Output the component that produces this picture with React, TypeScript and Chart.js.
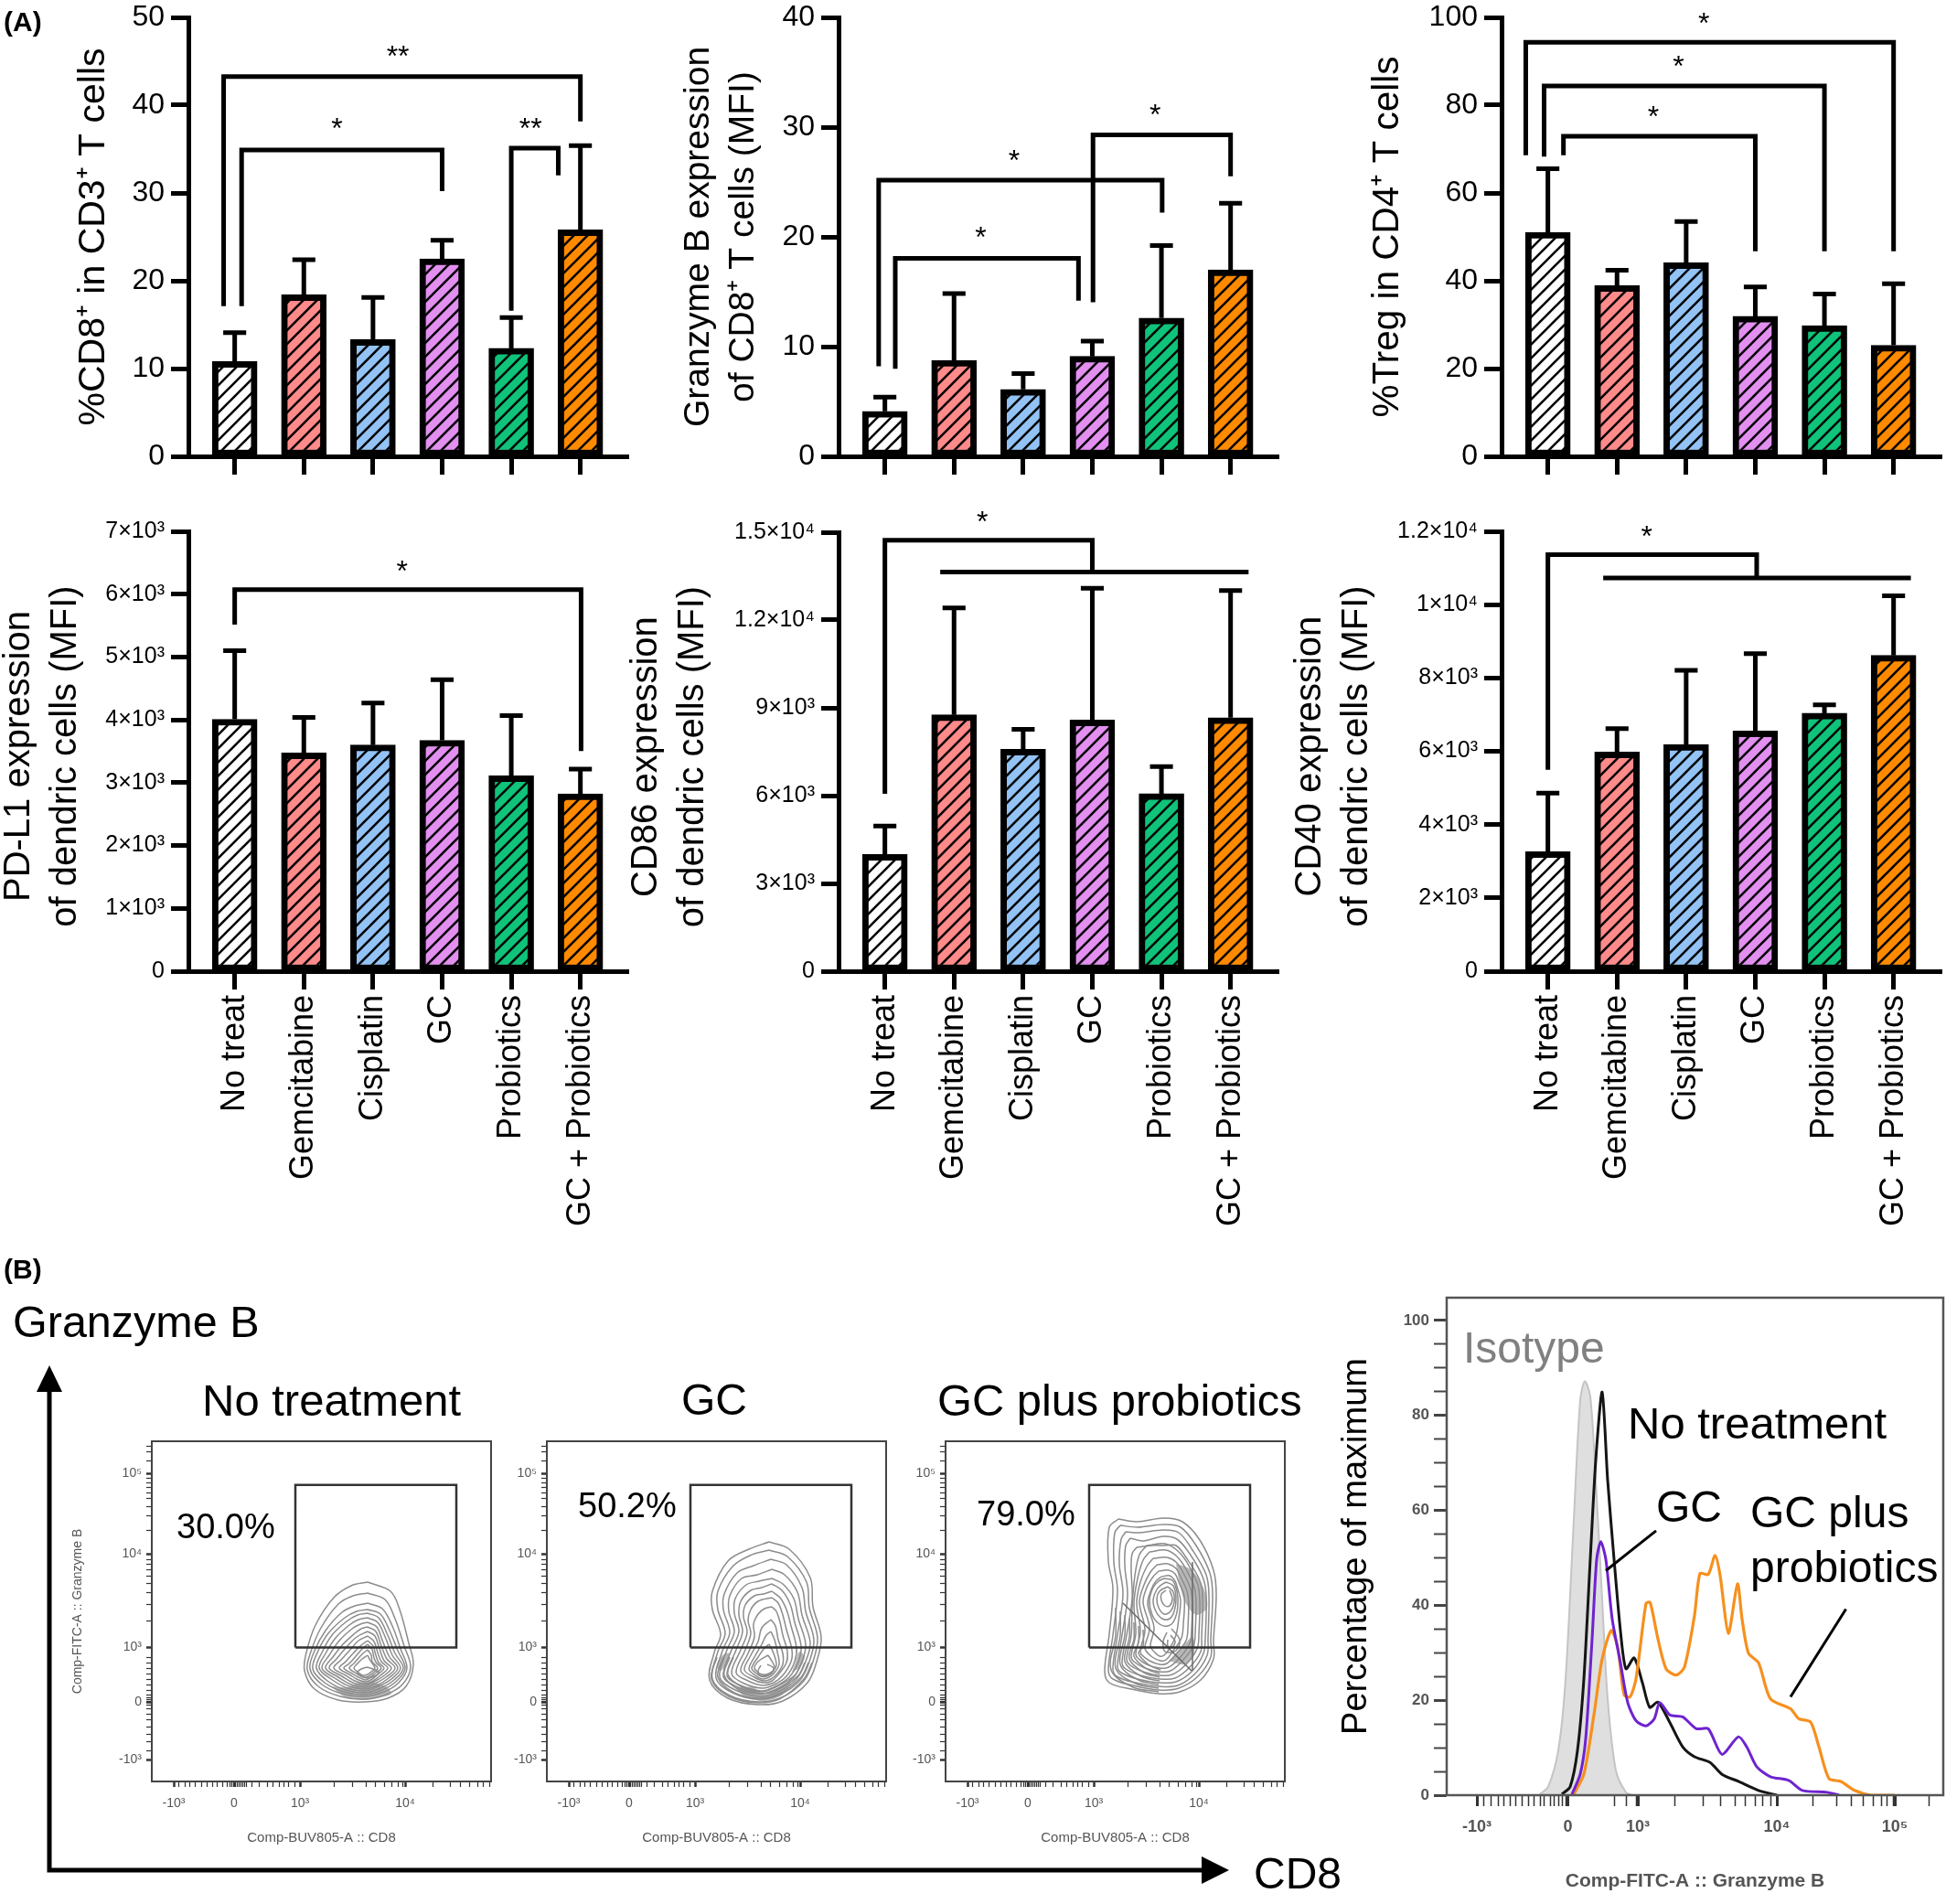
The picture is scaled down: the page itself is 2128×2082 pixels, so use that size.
import { useEffect, useRef } from "react";
import { Chart, registerables } from "chart.js";

Chart.register(...registerables);
Chart.defaults.font.family = '"Liberation Sans", Arial, sans-serif';

type Pt = [number, number];

const categories = ["No treat", "Gemcitabine", "Cisplatin", "GC", "Probiotics", "GC + Probiotics"];
const barColors = ["#ffffff", "#ff8a8a", "#93c3f5", "#e28ff0", "#0fc37a", "#ff8a00"];

// bar panels, values
const cd8Means = [10.8, 18.4, 13.3, 22.5, 12.3, 25.8];
const cd8Errors = [3.3, 4.0, 4.8, 2.1, 3.5, 9.6];
const cd8Brackets: Pt[][] = [
  [[-0.16, 17.1], [-0.16, 43.25], [5, 43.25], [5, 38.15]],
  [[0.1, 17.1], [0.1, 34.9], [3, 34.9], [3, 30.2]],
  [[4, 16.6], [4, 35.1], [4.68, 35.1], [4.68, 32]],
];
const cd8Stars: [number, number, string][] = [[2.36, 46.05, "**"], [1.48, 37.8, "*"], [4.28, 37.8, "**"]];

const gzmMeans = [4.1, 8.74, 6.1, 9.11, 12.6, 17.0];
const gzmErrors = [1.3, 6.1, 1.44, 1.38, 6.6, 6.07];
const gzmBrackets: Pt[][] = [
  [[-0.09, 8.2], [-0.09, 25.16], [4.01, 25.16], [4.01, 22.2]],
  [[0.15, 7.97], [0.15, 18.05], [2.8, 18.05], [2.8, 14.18]],
  [[3.01, 14.04], [3.01, 29.3], [5, 29.3], [5, 25.53]],
];
const gzmStars: [number, number, string][] = [[1.87, 27.3, "*"], [1.385, 20.3, "*"], [3.91, 31.46, "*"]];

const tregMeans = [51.0, 38.9, 44.1, 31.9, 29.8, 25.3];
const tregErrors = [14.5, 3.5, 9.4, 6.7, 7.2, 14.0];
const tregBrackets: Pt[][] = [
  [[-0.32, 68.6], [-0.32, 94.3], [5, 94.3], [5, 46.7]],
  [[-0.055, 68.3], [-0.055, 84.4], [4, 84.4], [4, 46.7]],
  [[0.225, 68.6], [0.225, 72.9], [3, 72.9], [3, 46.7]],
];
const tregStars: [number, number, string][] = [[2.255, 99.5, "*"], [1.89, 89.7, "*"], [1.526, 78.2, "*"]];

const pdl1Means = [4009, 3474, 3600, 3675, 3110, 2821];
const pdl1Errors = [1091, 565, 669, 965, 958, 394];
const pdl1Brackets: Pt[][] = [[[0, 5516], [0, 6073], [5.01, 6073], [5.01, 3504]]];
const pdl1Stars: [number, number, string][] = [[2.42, 6437, "*"]];

const cd86Means = [3989, 8760, 7580, 8585, 6064, 8665];
const cd86Errors = [974, 3654, 685, 4499, 925, 4340];
const cd86Brackets: Pt[][] = [
  [[0, 6064], [0, 14728], [3, 14728], [3, 13643]],
  [[0.8, 13643], [5.26, 13643]],
];
const cd86Stars: [number, number, string][] = [[1.41, 15480, "*"]];

const cd40Means = [3258, 5981, 6185, 6554, 7037, 8615];
const cd40Errors = [1603, 636, 2023, 2112, 229, 1629];
const cd40Brackets: Pt[][] = [
  [[0, 5497], [0, 11364], [3.02, 11364], [3.02, 10727]],
  [[0.8, 10727], [5.25, 10727]],
];
const cd40Stars: [number, number, string][] = [[1.43, 11962, "*"]];

const ticks50 = [0, 10, 20, 30, 40, 50];
const ticks40 = [0, 10, 20, 30, 40];
const ticks100 = [0, 20, 40, 60, 80, 100];
const ticksPdl1 = [0, 1000, 2000, 3000, 4000, 5000, 6000, 7000];
const labelsPdl1 = ["0", "1×10³", "2×10³", "3×10³", "4×10³", "5×10³", "6×10³", "7×10³"];
const ticksCd86 = [0, 3000, 6000, 9000, 12000, 15000];
const labelsCd86 = ["0", "3×10³", "6×10³", "9×10³", "1.2×10⁴", "1.5×10⁴"];
const ticksCd40 = [0, 2000, 4000, 6000, 8000, 10000, 12000];
const labelsCd40 = ["0", "2×10³", "4×10³", "6×10³", "8×10³", "1×10⁴", "1.2×10⁴"];

// contour plots, axes in display channels
const gate: Pt[] = [[157, 146.6], [333, 146.6], [333, 324.3], [157, 324.3], [157, 146.6]];

const contoursNoTreat: Pt[][] = [
  [[236,218],[261,208],[271,188],[281,151],[286,128],[278,104],[258,91],[233,87],[204,89],[178,101],[167,121],[169,141],[179,171],[199,201],[218,214]],
  [[236,206],[255,199],[266,178],[276,148],[283,125],[274,106],[256,95],[233,90],[206,93],[182,104],[170,122],[174,142],[185,168],[204,194],[220,203]],
  [[236,195],[252,189],[263,170],[272,145],[279,124],[270,108],[254,98],[233,93],[208,96],[186,106],[173,123],[178,143],[190,165],[208,185],[222,192]],
  [[236,188],[250,183],[260,165],[269,143],[277,124],[268,110],[252,100],[233,95],[210,98],[189,108],[176,123],[182,143],[193,162],[211,179],[224,186]],
  [[236,184],[248,179],[258,160],[266,140],[275,124],[265,111],[250,102],[233,97],[212,100],[192,110],[180,124],[186,141],[197,160],[213,175],[225,182]],
  [[236,179],[247,174],[256,156],[263,138],[272,124],[262,112],[248,104],[233,99],[214,102],[196,112],[183,124],[190,140],[201,157],[216,171],[226,177]],
  [[236,174],[246,169],[253,152],[260,136],[269,124],[259,113],[246,105],[233,101],[216,104],[200,113],[186,124],[194,138],[205,154],[219,167],[228,172]],
  [[236,169],[245,164],[251,148],[257,134],[266,124],[256,114],[244,107],[233,103],[218,106],[204,114],[190,124],[198,136],[209,150],[222,162],[229,167]],
  [[236,164],[244,159],[249,145],[254,132],[262,124],[253,115],[243,109],[233,105],[220,108],[208,115],[194,124],[202,134],[213,147],[224,158]],
  [[236,159],[243,153],[247,141],[251,131],[258,124],[250,116],[242,110],[234,107],[222,110],[212,116],[199,124],[207,133],[217,144],[226,154]],
  [[236,154],[242,148],[245,138],[248,130],[254,124],[247,117],[241,112],[234,109],[224,112],[216,117],[205,124],[212,131],[221,141],[229,149]],
  [[236,150],[241,144],[243,135],[246,129],[251,124],[244,118],[239,114],[234,111],[226,114],[219,118],[210,124],[216,129],[224,138],[231,146]],
  [[236,144],[240,138],[241,131],[247,124],[242,119],[237,115],[232,114],[224,118],[216,124],[221,129],[227,136],[232,141]],
  [[236,138],[239,132],[244,124],[240,120],[236,117],[231,116],[226,119],[221,124],[225,129],[230,134]],
  [[236,125],[244,122],[248,119],[243,115],[236,113],[229,115],[225,119],[229,123]],
];
const blobsNoTreat: Pt[][] = [
  [[196,104],[214,103],[226,108],[242,108],[256,104],[262,96],[246,91],[232,89],[212,92]],
];

const contoursGC: Pt[][] = [
  [[243,262],[265,254],[288,223],[291,191],[300,158],[295,131],[285,108],[258,88],[231,84],[198,91],[178,111],[183,141],[190,161],[181,188],[181,208],[198,241],[221,254]],
  [[243,253],[263,246],[284,218],[287,190],[296,157],[291,131],[281,110],[257,92],[231,87],[200,94],[181,112],[187,142],[195,162],[187,188],[187,208],[203,235],[222,247]],
  [[245,243],[262,237],[279,212],[283,186],[292,155],[287,131],[277,111],[255,95],[232,90],[203,97],[185,113],[192,143],[200,163],[193,188],[194,205],[208,228],[226,236]],
  [[246,232],[260,226],[274,207],[279,182],[288,152],[283,131],[273,112],[253,98],[233,93],[206,100],[189,114],[197,144],[205,164],[199,186],[200,203],[213,222],[230,226]],
  [[246,222],[258,216],[270,200],[275,178],[283,150],[279,131],[269,113],[251,101],[234,96],[209,103],[193,115],[202,144],[210,164],[205,184],[206,200],[218,215],[232,219]],
  [[246,216],[257,209],[266,194],[271,174],[278,148],[275,131],[265,114],[250,104],[235,99],[212,105],[197,116],[207,144],[214,164],[210,182],[212,197],[223,209],[235,212]],
  [[246,208],[255,201],[262,188],[267,170],[273,146],[271,131],[262,115],[249,106],[236,102],[216,107],[202,118],[212,144],[219,163],[215,180],[217,193],[227,203],[237,205]],
  [[246,201],[253,195],[258,182],[262,166],[268,144],[267,131],[258,116],[248,108],[236,105],[220,110],[207,119],[217,144],[223,162],[220,176],[223,188],[231,197]],
  [[246,191],[251,186],[255,174],[258,160],[263,142],[262,130],[254,118],[246,110],[237,108],[224,112],[212,121],[220,140],[227,158],[226,172],[231,183],[238,189]],
  [[245,177],[250,170],[253,155],[258,140],[258,128],[252,118],[245,112],[237,110],[227,114],[216,122],[223,138],[231,153],[235,168]],
  [[245,164],[249,155],[252,142],[254,128],[249,119],[243,114],[236,112],[228,116],[221,123],[227,136],[235,150],[240,160]],
  [[243,150],[248,140],[251,127],[246,119],[240,115],[234,115],[228,119],[224,124],[231,136],[238,146]],
  [[242,138],[247,130],[249,124],[243,118],[236,117],[230,120],[227,125],[232,132]],
  [[241,128],[247,125],[248,121],[242,116],[233,116],[231,121],[234,127]],
  // crowded lower part of the plot
  [[290,130],[281,112],[256,91],[231,86],[199,93],[180,112],[186,136]],
  [[286,130],[278,114],[254,96],[232,91],[205,97],[187,114],[193,136]],
  [[282,130],[275,116],[252,100],[234,96],[211,100],[194,116],[200,136]],
  [[279,130],[271,116],[250,103],[235,98],[214,103],[198,117],[204,136]],
];
const blobsGC: Pt[][] = [
  [[206,102],[225,103],[238,95],[250,101],[266,108],[258,95],[238,88],[218,92]],
  [[268,120],[276,124],[282,136],[276,142],[272,130]],
  [[190,120],[196,128],[200,140],[192,138],[186,126]],
];

const contoursProbio: Pt[][] = [
  [[189,287],[209,284],[239,288],[259,284],[278,264],[293,231],[296,204],[293,154],[293,134],[279,111],[256,98],[233,96],[203,101],[179,108],[174,121],[179,161],[183,211],[178,241],[179,278]],
  [[191,280],[210,278],[239,281],[257,278],[274,258],[289,228],[292,204],[290,155],[290,136],[276,115],[255,102],[233,100],[205,105],[183,112],[178,122],[183,160],[188,208],[184,240],[185,272]],
  [[197,273],[212,272],[238,275],[255,272],[270,253],[285,226],[288,204],[287,156],[286,138],[273,118],[254,105],[233,104],[208,108],[187,115],[183,124],[188,160],[194,205],[190,238],[192,265]],
  [[202,266],[216,263],[238,268],[253,265],[267,249],[281,224],[285,204],[284,157],[282,140],[270,121],[252,109],[233,108],[210,112],[192,119],[188,126],[193,160],[199,203],[196,236],[197,258]],
  [[209,256],[225,258],[240,258],[252,258],[263,245],[277,222],[281,204],[280,158],[279,142],[267,125],[251,113],[234,112],[213,116],[197,123],[193,130],[198,160],[204,200],[203,232],[204,249]],
  [[220,258],[240,260],[254,252],[266,236],[277,210],[277,160],[275,145],[263,128],[248,117],[234,116],[216,120],[202,127],[198,134],[203,160],[204,190],[207,225],[212,248]],
  [[223,251],[241,253],[253,246],[263,232],[273,208],[273,162],[271,148],[259,132],[246,121],[234,120],[218,124],[206,131],[203,137],[208,162],[206,195],[210,222],[216,242]],
  [[227,244],[242,245],[252,240],[260,228],[269,206],[269,164],[267,151],[256,135],[244,125],[234,124],[220,128],[210,135],[208,140],[213,164],[209,195],[213,218],[220,235]],
  [[231,237],[243,238],[252,233],[257,224],[265,204],[265,168],[263,154],[252,139],[242,129],[234,128],[223,132],[214,139],[213,144],[218,166],[212,196],[217,215],[224,229]],
  [[233,230],[244,231],[251,227],[255,218],[261,202],[260,172],[258,157],[249,143],[241,133],[235,132],[226,136],[219,143],[218,148],[223,168],[216,196],[220,212],[227,224]],
  [[236,224],[245,225],[251,219],[254,210],[257,198],[255,178],[252,160],[246,147],[239,138],[234,137],[229,141],[224,148],[228,168],[221,194],[225,210],[230,219]],
  [[239,222],[248,220],[253,208],[254,192],[250,176],[243,170],[234,172],[226,182],[223,198],[227,212],[233,219]],
  [[241,218],[249,214],[252,200],[250,186],[245,178],[237,178],[230,186],[227,198],[231,210],[236,215]],
  [[243,213],[249,207],[250,196],[246,186],[239,183],[233,190],[231,200],[234,208]],
  [[245,209],[248,200],[245,192],[240,192],[236,198],[236,205],[241,209]],
  [[247,167],[256,155],[252,143],[240,142],[238,153],[242,163]],
  [[246,160],[251,153],[248,147],[243,148],[243,155]],
  // crowded lower left part of the plot
  [[186,190],[186,160],[181,122],[205,103],[233,98]],
  [[191,186],[191,160],[186,124],[208,107],[233,102]],
  [[196,182],[196,160],[191,128],[211,111],[233,106]],
  [[201,178],[201,158],[196,131],[214,115],[234,110]],
  [[206,174],[206,156],[201,134],[217,119],[234,114]],
  [[211,170],[211,152],[206,137],[220,123],[234,118]],
  [[216,166],[216,148],[211,140],[223,127],[235,122]],
];
const blobsProbio: Pt[][] = [
  [[252,238],[268,232],[282,212],[286,190],[274,182],[262,196],[256,216]],
  [[244,132],[262,128],[272,140],[270,158],[258,146]],
];
const strokesProbio: Pt[][] = [
  [[194,195], [269,121]],
  [[270,240], [270,121]],
];

const contourXTicks = [24, 29.4, 36, 41.7, 47.7, 54.4, 60.4, 66, 71, 77.7, 82.7, 85, 87, 89, 90, 91, 93, 95, 97, 99, 101, 103, 109.4, 117.7, 126, 132.7, 139.4, 144.4, 149.4, 156, 162, 199.4, 219.4, 234.4, 244.4, 254.4, 262.7, 269.4, 274.4, 277, 307.7, 326, 337.7, 347.7, 356, 362.7, 369.4];
const contourXMajor = [24, 90, 162, 277];
const contourXLabels = ["-10³", "0", "10³", "10⁴"];
const contourYTicks = [24, 34, 44, 52, 60, 68, 74, 80, 84, 86.6, 88, 90, 92, 95, 100, 106, 112, 118, 124, 130, 136, 147, 176, 194, 207, 217, 225, 232, 238, 243, 248.6, 275, 291, 301, 309, 316, 322, 327, 332, 337, 350, 360, 366];
const contourYMajor = [24, 86.6, 147, 248.6, 337];
const contourYLabels = ["-10³", "0", "10³", "10⁴", "10⁵"];

// histogram, x in display channels, y in percent of maximum
const isotypeCurve: Pt[] = [[102,0.2],[111,1.8],[122,9.4],[130,24.5],[139,58],[146,83.2],[151,87.2],[157,84],[163,66.4],[170,41.3],[176,20.3],[185,5.2],[196,0.6],[203,0]];
const noTreatCurve: Pt[] = [[126,0.2],[135,1.8],[143,9.4],[150,24.5],[157,49.7],[163,70.6],[170,84.9],[176,66.4],[183,49.7],[190,34.6],[196,26.6],[205,28.9],[214,23.7],[222,18.5],[231,19.6],[244,15.3],[258,10.2],[271,8.1],[288,6.9],[301,4.4],[319,2.9],[341,1],[361,0]];
const gcCurve: Pt[] = [[137,0.2],[146,4.4],[152,11.9],[159,32.9],[164,49.7],[168.5,53.4],[174,49.7],[181,37.1],[190,27.9],[198,19.5],[207,15.7],[218,14.6],[227,16.1],[233,19.5],[244,16.9],[258,16.5],[273,14],[286,14],[301,8.6],[319,12.3],[328,10.2],[339,6],[354,3.9],[374,3.1],[389,1],[416,0.6],[429,0]];
const probioCurve: Pt[] = [[139,0.2],[150,4.4],[161,16.9],[170,28.7],[180,34.7],[187,31.2],[194,21.1],[200.5,20.7],[207,24.5],[218,40.4],[222.5,40.6],[231,32.9],[240,26.6],[251,25.3],[260,27],[271,37.9],[277,46.7],[286,46.5],[293.5,50.5],[299,46.3],[308,34.1],[318,44.5],[323,37.1],[330,29.9],[341,27.9],[354,20.3],[376,18.2],[385,16.1],[398,15.4],[407,10.2],[418,3.5],[431,2.9],[446,1],[464,0],[490,0]];
const gcLeader: Pt[] = [[229,55.7],[174,47.3]];
const probioLeader: Pt[] = [[436.6,39.2],[376,20.7]];
const histXTicks = [33, 40, 48, 56, 62, 69, 75, 82, 89, 95, 102, 106, 113, 117, 122, 126, 130, 132.5, 183, 196, 207, 209, 249, 280, 299, 315, 326, 337, 345, 354, 361, 400, 426, 442, 455, 466, 475, 481, 488, 490, 527];
const histXMajor = [33, 132.5, 209, 361, 490];
const histXLabels = ["-10³", "0", "10³", "10⁴", "10⁵"];
const histYTicks = [0, 5, 10, 15, 20, 25, 30, 35, 40, 45, 50, 55, 60, 65, 70, 75, 80, 85, 90, 95, 100];
const histYMajor = [0, 20, 40, 60, 80, 100];

const FONT = '"Liberation Sans", Arial, sans-serif';
const X_MIN = -0.67;
const X_MAX = 5.7;
const PLOT_W = 481.6;
const GUTTER = 240;

function makeHatch(color: string) {
  const size = 15;
  const c = document.createElement("canvas");
  c.width = size;
  c.height = size;
  const g = c.getContext("2d")!;
  g.fillStyle = color;
  g.fillRect(0, 0, size, size);
  g.strokeStyle = "#000";
  g.lineWidth = 2.6;
  g.beginPath();
  g.moveTo(-2, size + 2);
  g.lineTo(size + 2, -2);
  g.moveTo(-2, 2);
  g.lineTo(2, -2);
  g.moveTo(size - 2, size + 2);
  g.lineTo(size + 2, size - 2);
  g.stroke();
  return g.createPattern(c, "repeat")!;
}

const toXY = (pts: Pt[]) => pts.map(([x, y]) => ({ x, y }));

// stop the scale's label padding from moving the plot area
const clearPadding = (axis: any) => {
  axis.paddingLeft = 0;
  axis.paddingRight = 0;
  axis.paddingTop = 0;
  axis.paddingBottom = 0;
};

type BarSpec = {
  means: number[];
  errors: number[];
  brackets: Pt[][];
  stars: [number, number, string][];
  title: string[];
  titleSize: number;
  titleX: number;
  yMax: number;
  yTicks: number[];
  yLabels?: string[];
  tickSize: number;
  left: number;
  top: number;
  bottom: number;
  showLabels: boolean;
};

// the no-break space at the end nudges the rotated lower-row titles down a little
const barSpecs: BarSpec[] = [
  { means: cd8Means, errors: cd8Errors, brackets: cd8Brackets, stars: cd8Stars, title: ["%CD8⁺ in CD3⁺ T cells"], titleSize: 41, titleX: 103, yMax: 50, yTicks: ticks50, tickSize: 32, left: 206, top: 19, bottom: 499, showLabels: false },
  { means: gzmMeans, errors: gzmErrors, brackets: gzmBrackets, stars: gzmStars, title: ["Granzyme B expression", "of CD8⁺ T cells (MFI)"], titleSize: 39, titleX: 764, yMax: 40, yTicks: ticks40, tickSize: 32, left: 917, top: 19, bottom: 499, showLabels: false },
  { means: tregMeans, errors: tregErrors, brackets: tregBrackets, stars: tregStars, title: ["%Treg in CD4⁺ T cells"], titleSize: 40.5, titleX: 1518, yMax: 100, yTicks: ticks100, tickSize: 32, left: 1642, top: 19, bottom: 499, showLabels: false },
  { means: pdl1Means, errors: pdl1Errors, brackets: pdl1Brackets, stars: pdl1Stars, title: ["PD-L1 expression\u00a0", "of dendric cells (MFI)\u00a0"], titleSize: 40, titleX: 21, yMax: 7000, yTicks: ticksPdl1, yLabels: labelsPdl1, tickSize: 25, left: 206, top: 581, bottom: 1062, showLabels: true },
  { means: cd86Means, errors: cd86Errors, brackets: cd86Brackets, stars: cd86Stars, title: ["CD86 expression\u00a0", "of dendric cells (MFI)\u00a0"], titleSize: 40, titleX: 707, yMax: 15000, yTicks: ticksCd86, yLabels: labelsCd86, tickSize: 25, left: 917, top: 582, bottom: 1062, showLabels: true },
  { means: cd40Means, errors: cd40Errors, brackets: cd40Brackets, stars: cd40Stars, title: ["CD40 expression\u00a0", "of dendric cells (MFI)\u00a0"], titleSize: 40, titleX: 1433, yMax: 12000, yTicks: ticksCd40, yLabels: labelsCd40, tickSize: 25, left: 1642, top: 581, bottom: 1062, showLabels: true },
];

function BarPanel({ spec }: { spec: BarSpec }) {
  const ref = useRef<HTMLCanvasElement>(null);
  const padTop = 30;
  const extra = spec.showLabels ? 310 : 30;
  const canvasX = spec.left - GUTTER;
  const canvasY = spec.top - padTop;
  const w = GUTTER + Math.ceil(PLOT_W) + 3;
  const h = padTop + (spec.bottom - spec.top) + extra;

  useEffect(() => {
    if (!ref.current) return;
    const capHalf = 0.166;
    const lineBase = { type: "line", pointRadius: 0, tension: 0.00001, borderColor: "#000", borderWidth: 5, borderCapStyle: "butt", borderJoinStyle: "miter", fill: false, clip: false };
    const errorSets = spec.means.map((m, i) => ({
      ...lineBase,
      data: toXY([[i, m], [i, m + spec.errors[i]], [i - capHalf, m + spec.errors[i]], [i + capHalf, m + spec.errors[i]]]),
    }));
    const bracketSets = spec.brackets.map((b) => ({ ...lineBase, data: toXY(b) }));
    const lineHeight = 1.27;
    const chart = new Chart(ref.current, {
      type: "bar",
      data: {
        datasets: [
          {
            type: "bar",
            data: spec.means.map((y, x) => ({ x, y })),
            backgroundColor: barColors.map(makeHatch),
            borderColor: "#000",
            borderWidth: 7,
            borderSkipped: false,
            barThickness: 49,
            order: 1,
          },
          ...errorSets,
          ...bracketSets,
        ] as any,
      },
      options: {
        responsive: false,
        animation: false,
        events: [],
        layout: { autoPadding: false, padding: { top: padTop, right: w - GUTTER - PLOT_W } },
        plugins: { legend: { display: false }, tooltip: { enabled: false } },
        scales: {
          x: {
            type: "linear",
            offset: false,
            min: X_MIN,
            max: X_MAX,
            afterBuildTicks: (axis: any) => {
              axis.ticks = categories.map((_, i) => ({ value: i }));
            },
            afterFit: (axis: any) => {
              axis.height = extra;
              clearPadding(axis);
            },
            border: { display: true, width: 5, color: "#000" },
            grid: { offset: false, drawOnChartArea: false, tickLength: 20, tickWidth: 5, tickColor: "#000" },
            ticks: {
              display: spec.showLabels,
              autoSkip: false,
              minRotation: 90,
              maxRotation: 90,
              padding: 6,
              color: "#000",
              font: { size: 36 },
              callback: (v: any) => categories[v as number],
            },
          },
          y: {
            min: 0,
            max: spec.yMax,
            afterBuildTicks: (axis: any) => {
              axis.ticks = spec.yTicks.map((value) => ({ value }));
            },
            afterFit: (axis: any) => {
              axis.width = GUTTER;
              clearPadding(axis);
            },
            border: { display: true, width: 5, color: "#000" },
            grid: { drawOnChartArea: false, tickLength: 19, tickWidth: 5, tickColor: "#000" },
            ticks: {
              padding: 7,
              color: "#000",
              font: { size: spec.tickSize },
              callback: (v: any, i: number) => (spec.yLabels ? spec.yLabels[i] : String(v)),
            },
            title: {
              display: true,
              text: spec.title,
              color: "#000",
              font: { size: spec.titleSize, lineHeight },
              padding: { top: spec.titleX - canvasX - (spec.titleSize * lineHeight) / 2, bottom: 0 },
            },
          },
        },
      } as any,
      plugins: [
        {
          id: "stars",
          afterDatasetsDraw(c: any) {
            const g = c.ctx;
            g.save();
            g.fillStyle = "#000";
            g.font = `32px ${FONT}`;
            g.textAlign = "center";
            g.textBaseline = "middle";
            for (const [x, y, s] of spec.stars) {
              g.fillText(s, c.scales.x.getPixelForValue(x), c.scales.y.getPixelForValue(y) + 6);
            }
            g.restore();
          },
        },
      ],
    });
    return () => chart.destroy();
  }, [spec]);

  return <canvas ref={ref} width={w} height={h} style={{ position: "absolute", left: canvasX, top: canvasY, width: w, height: h }} />;
}

const framePlugin = (color: string, width: number) => ({
  id: "frame",
  afterDatasetsDraw(c: any) {
    const { left, top, right, bottom } = c.chartArea;
    const g = c.ctx;
    g.save();
    g.strokeStyle = color;
    g.lineWidth = width;
    g.strokeRect(left, top, right - left, bottom - top);
    g.restore();
  },
});

const labelFor = (majors: number[], labels: string[]) => (v: any) => {
  const i = majors.indexOf(v as number);
  return i >= 0 ? labels[i] : "";
};

type ContourSpec = { left: number; contours: Pt[][]; blobs: Pt[][]; strokes: Pt[][]; showTitle: boolean };

const contourSpecs: ContourSpec[] = [
  { left: 166, contours: contoursNoTreat, blobs: blobsNoTreat, strokes: [], showTitle: true },
  { left: 598, contours: contoursGC, blobs: blobsGC, strokes: [], showTitle: false },
  { left: 1034, contours: contoursProbio, blobs: blobsProbio, strokes: strokesProbio, showTitle: false },
];

function ContourPlot({ spec }: { spec: ContourSpec }) {
  const ref = useRef<HTMLCanvasElement>(null);
  const pad = 10;
  const gutter = 110;
  const top = 1576;
  const plotW = 371;
  const plotH = 372;
  const extra = 75;
  const w = gutter + plotW + pad;
  const h = pad + plotH + extra;

  useEffect(() => {
    if (!ref.current) return;
    const base = { pointRadius: 0, showLine: true, fill: false };
    // Chart.js paints the first dataset last, so the gate goes first
    const chart = new Chart(ref.current, {
      type: "scatter",
      data: {
        datasets: [
          { ...base, data: toXY(gate), tension: 0.00001, borderColor: "#333", borderWidth: 2.5 },
          ...spec.strokes.map((s) => ({ ...base, data: toXY(s), tension: 0.00001, borderColor: "#6a6a6a", borderWidth: 1.5 })),
          ...spec.contours.map((c) => ({
            ...base,
            data: toXY(c.length > 7 ? [...c, c[0]] : c),
            tension: 0.35,
            borderColor: "#8c8c8c",
            borderWidth: 1.5,
          })),
          ...spec.blobs.map((b) => ({
            ...base,
            data: toXY([...b, b[0]]),
            tension: 0.3,
            borderWidth: 0,
            fill: "shape",
            backgroundColor: "rgba(95,95,95,0.45)",
          })),
        ] as any,
      },
      options: {
        responsive: false,
        animation: false,
        events: [],
        layout: { autoPadding: false, padding: { top: pad, right: pad } },
        plugins: { legend: { display: false }, tooltip: { enabled: false } },
        scales: {
          x: {
            type: "linear",
            min: 0,
            max: plotW,
            afterBuildTicks: (axis: any) => {
              axis.ticks = contourXTicks.map((value) => ({ value }));
            },
            afterFit: (axis: any) => {
              axis.height = extra;
              clearPadding(axis);
            },
            border: { display: false },
            grid: {
              drawOnChartArea: false,
              tickLength: 6,
              tickColor: "#333",
              tickWidth: (ctx: any) => (contourXMajor.includes(ctx.tick?.value) ? 2.5 : 1.2),
            },
            ticks: { autoSkip: false, maxRotation: 0, padding: 10, color: "#555", font: { size: 14 }, callback: labelFor(contourXMajor, contourXLabels) },
            title: { display: true, text: "Comp-BUV805-A :: CD8", color: "#555", font: { size: 15 }, padding: { top: 0, bottom: 4 } },
          },
          y: {
            type: "linear",
            min: 0,
            max: plotH,
            afterBuildTicks: (axis: any) => {
              axis.ticks = contourYTicks.map((value) => ({ value }));
            },
            afterFit: (axis: any) => {
              axis.width = gutter;
              clearPadding(axis);
            },
            border: { display: false },
            grid: {
              drawOnChartArea: false,
              tickLength: 6,
              tickColor: "#333",
              tickWidth: (ctx: any) => (contourYMajor.includes(ctx.tick?.value) ? 2.5 : 1.2),
            },
            ticks: { autoSkip: false, padding: 5, color: "#555", font: { size: 14 }, callback: labelFor(contourYMajor, contourYLabels) },
            title: { display: spec.showTitle, text: "Comp-FITC-A :: Granzyme B", color: "#555", font: { size: 14 }, padding: { top: 21, bottom: 0 } },
          },
        },
      } as any,
      plugins: [framePlugin("#444", 2)],
    });
    return () => chart.destroy();
  }, [spec]);

  return <canvas ref={ref} width={w} height={h} style={{ position: "absolute", left: spec.left - gutter, top: top - pad, width: w, height: h, filter: "blur(0.5px)" }} />;
}

function Histogram() {
  const ref = useRef<HTMLCanvasElement>(null);
  const canvasX = 1440;
  const canvasY = 1409;
  const gutter = 142;
  const pad = 10;
  const plotW = 543;
  const extra = 110;
  const w = gutter + plotW + 3;
  const h = pad + 544 + extra;

  useEffect(() => {
    if (!ref.current) return;
    const base = { pointRadius: 0, showLine: true, fill: false };
    const chart = new Chart(ref.current, {
      type: "scatter",
      data: {
        datasets: [
          { ...base, data: toXY(gcLeader), tension: 0.00001, borderColor: "#000", borderWidth: 3 },
          { ...base, data: toXY(probioLeader), tension: 0.00001, borderColor: "#000", borderWidth: 3 },
          { ...base, data: toXY(gcCurve), tension: 0.25, borderColor: "#6f23cf", borderWidth: 3 },
          { ...base, data: toXY(probioCurve), tension: 0.25, borderColor: "#f6901e", borderWidth: 3.2 },
          { ...base, data: toXY(noTreatCurve), tension: 0.25, borderColor: "#151515", borderWidth: 3 },
          { ...base, data: toXY(isotypeCurve), tension: 0.3, borderColor: "#c4c4c4", borderWidth: 2, fill: "origin", backgroundColor: "rgba(215,215,215,0.8)" },
        ] as any,
      },
      options: {
        responsive: false,
        animation: false,
        events: [],
        layout: { autoPadding: false, padding: { top: pad, right: 3 } },
        plugins: { legend: { display: false }, tooltip: { enabled: false } },
        scales: {
          x: {
            type: "linear",
            min: 0,
            max: plotW,
            afterBuildTicks: (axis: any) => {
              axis.ticks = histXTicks.map((value) => ({ value }));
            },
            afterFit: (axis: any) => {
              axis.height = extra;
              clearPadding(axis);
            },
            border: { display: false },
            grid: {
              drawOnChartArea: false,
              tickLength: 12,
              tickColor: "#333",
              tickWidth: (ctx: any) => (histXMajor.includes(ctx.tick?.value) ? 3 : 1.5),
            },
            ticks: { autoSkip: false, maxRotation: 0, padding: 12, color: "#555", font: { size: 18, weight: "bold" }, callback: labelFor(histXMajor, histXLabels) },
            title: { display: true, text: "Comp-FITC-A :: Granzyme B", color: "#555", font: { size: 21, weight: "bold" }, padding: { top: 0, bottom: 3 } },
          },
          y: {
            type: "linear",
            min: 0,
            max: 104.8,
            afterBuildTicks: (axis: any) => {
              axis.ticks = histYTicks.map((value) => ({ value }));
            },
            afterFit: (axis: any) => {
              axis.width = gutter;
              clearPadding(axis);
            },
            border: { display: false },
            grid: {
              drawOnChartArea: false,
              tickLength: 14,
              tickColor: "#444",
              tickWidth: (ctx: any) => (histYMajor.includes(ctx.tick?.value) ? 3 : 2),
            },
            ticks: { autoSkip: false, padding: 5, color: "#555", font: { size: 17, weight: "bold" }, callback: labelFor(histYMajor, histYMajor.map(String)) },
            title: { display: true, text: "Percentage of maximum", color: "#000", font: { size: 38 }, padding: { top: 21, bottom: 0 } },
          },
        },
      } as any,
      plugins: [framePlugin("#555", 2.5)],
    });
    return () => chart.destroy();
  }, []);

  return <canvas ref={ref} width={w} height={h} style={{ position: "absolute", left: canvasX, top: canvasY, width: w, height: h, filter: "blur(0.5px)" }} />;
}

const textLabels: { text: string; x: number; y: number; size: number; bold?: boolean; color?: string }[] = [
  { text: "(A)", x: 4, y: 24, size: 30, bold: true },
  { text: "(B)", x: 4, y: 1388, size: 30, bold: true },
  { text: "Granzyme B", x: 14, y: 1445, size: 48.5 },
  { text: "No treatment", x: 221, y: 1531, size: 49 },
  { text: "GC", x: 745, y: 1531, size: 48 },
  { text: "GC plus probiotics", x: 1025, y: 1531, size: 48.8 },
  { text: "30.0%", x: 193, y: 1669, size: 38 },
  { text: "50.2%", x: 632, y: 1646, size: 38 },
  { text: "79.0%", x: 1068, y: 1655, size: 38 },
  { text: "CD8", x: 1371, y: 2049, size: 48 },
  { text: "Isotype", x: 1600, y: 1474, size: 48, color: "#808080" },
  { text: "No treatment", x: 1780, y: 1556, size: 49 },
  { text: "GC", x: 1811, y: 1648, size: 48 },
  { text: "GC plus", x: 1914, y: 1654, size: 48 },
  { text: "probiotics", x: 1914, y: 1714, size: 48 },
];

export default function App() {
  return (
    <div style={{ position: "absolute", left: 0, top: 0, width: 2128, height: 2082, background: "#fff", overflow: "hidden", fontFamily: FONT }}>
      {barSpecs.map((s, i) => (
        <BarPanel key={i} spec={s} />
      ))}
      {contourSpecs.map((s, i) => (
        <ContourPlot key={i} spec={s} />
      ))}
      <Histogram />
      <svg width={2128} height={2082} style={{ position: "absolute", left: 0, top: 0 }}>
        <path d="M54 1515 V2045 H1320" fill="none" stroke="#000" strokeWidth={5} />
        <path d="M40 1522 L54 1493 L68 1522 Z M1314 2030 L1344 2045 L1314 2060 Z" fill="#000" />
      </svg>
      {textLabels.map((t, i) => (
        <span
          key={i}
          style={{
            position: "absolute",
            left: t.x,
            top: t.y,
            transform: "translateY(-50%)",
            fontSize: t.size,
            lineHeight: 1,
            whiteSpace: "nowrap",
            fontWeight: t.bold ? "bold" : "normal",
            color: t.color ?? "#000",
          }}
        >
          {t.text}
        </span>
      ))}
    </div>
  );
}
